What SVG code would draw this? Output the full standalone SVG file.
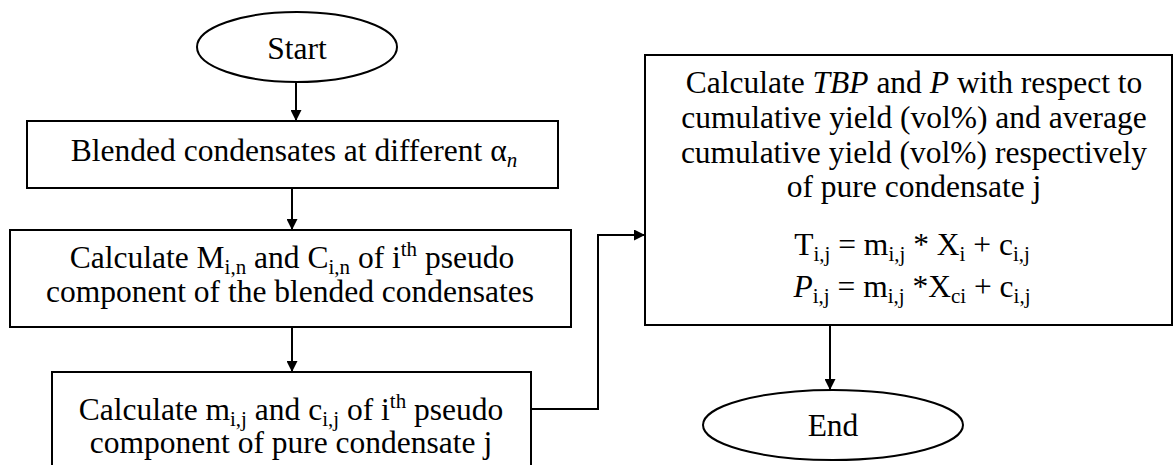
<svg xmlns="http://www.w3.org/2000/svg" width="1175" height="465" viewBox="0 0 1175 465">
<defs>
<marker id="ah" viewBox="0 0 10 10" refX="10" refY="5" markerWidth="11" markerHeight="11" markerUnits="userSpaceOnUse" orient="auto">
<path d="M0,0 L10,5 L0,10 z" fill="#000"/>
</marker>
</defs>
<style>
.shape{fill:#fff;stroke:#000;stroke-width:2}
.t{font-family:"Liberation Serif","Times New Roman",serif;font-size:31.5px;fill:#000;text-anchor:middle}
.s{font-size:21px}
.i{font-style:italic}
.c{fill:none;stroke:#000;stroke-width:2}
</style>
<rect width="1175" height="465" fill="#fff"/>
<g id="connectors">
<line class="c" x1="296" y1="82" x2="296" y2="121" marker-end="url(#ah)"/>
<line class="c" x1="292" y1="188" x2="292" y2="230" marker-end="url(#ah)"/>
<line class="c" x1="292" y1="327" x2="292" y2="372" marker-end="url(#ah)"/>
<polyline class="c" points="531,409 598,409 598,235 645,235" marker-end="url(#ah)"/>
<line class="c" x1="830" y1="325" x2="830" y2="390" marker-end="url(#ah)"/>
</g>
<g id="start">
<ellipse class="shape" cx="297" cy="47" rx="100" ry="35"/>
<text class="t" x="297" y="59">Start</text>
</g>
<g id="blended">
<rect class="shape" x="27" y="121" width="531" height="67"/>
<text class="t" x="294" y="161">Blended condensates at different α<tspan class="s i" dy="6">n</tspan></text>
</g>
<g id="calcM">
<rect class="shape" x="10" y="230" width="561" height="97"/>
<text class="t" x="292" y="268">Calculate M<tspan class="s" dy="6">i,n</tspan><tspan dy="-6"> and C</tspan><tspan class="s" dy="6">i,n</tspan><tspan dy="-6"> of i</tspan><tspan class="s" dy="-12">th</tspan><tspan dy="12">  pseudo</tspan></text>
<text class="t" x="290" y="302">component of the blended condensates</text>
</g>
<g id="calcm">
<rect class="shape" x="52" y="372" width="479" height="100"/>
<text class="t" x="291" y="420">Calculate m<tspan class="s" dy="6">i,j</tspan><tspan dy="-6"> and c</tspan><tspan class="s" dy="6">i,j</tspan><tspan dy="-6"> of i</tspan><tspan class="s" dy="-12">th</tspan><tspan dy="12"> pseudo</tspan></text>
<text class="t" x="291" y="453">component of pure condensate j</text>
</g>
<g id="calcTBP">
<rect class="shape" x="645" y="55" width="527" height="270"/>
<text class="t" x="914" y="93">Calculate <tspan class="i">TBP</tspan> and <tspan class="i">P</tspan> with respect to</text>
<text class="t" x="914" y="128">cumulative yield (vol%) and average</text>
<text class="t" x="914" y="163">cumulative yield (vol%) respectively</text>
<text class="t" x="914" y="197">of pure condensate j</text>
<text class="t" x="912" y="255">T<tspan class="s" dy="6">i,j</tspan><tspan dy="-6"> = m</tspan><tspan class="s" dy="6">i,j</tspan><tspan dy="-6"> * X</tspan><tspan class="s" dy="6">i</tspan><tspan dy="-6"> + c</tspan><tspan class="s" dy="6">i,j</tspan></text>
<text class="t" x="912" y="297"><tspan class="i">P</tspan><tspan class="s" dy="6">i,j</tspan><tspan dy="-6"> = m</tspan><tspan class="s" dy="6">i,j</tspan><tspan dy="-6">  *X</tspan><tspan class="s" dy="6">ci</tspan><tspan dy="-6"> + c</tspan><tspan class="s" dy="6">i,j</tspan></text>
</g>
<g id="end">
<ellipse class="shape" cx="833" cy="425" rx="130" ry="35"/>
<text class="t" x="833" y="436">End</text>
</g>
</svg>
